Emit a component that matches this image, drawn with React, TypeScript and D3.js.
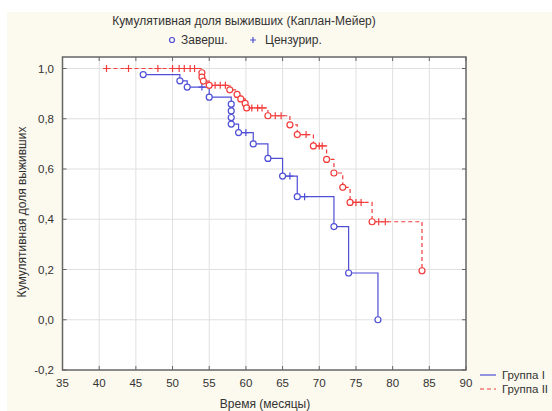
import React from "react";
import * as d3 from "d3";

const groupITime = [46, 51, 52, 54, 55, 58, 58, 58, 58, 59, 60, 61, 63, 65, 66, 67, 68, 72, 74, 78];
const groupISurv = [0.976, 0.951, 0.926, 0.926, 0.886, 0.858, 0.831, 0.805, 0.779, 0.745, 0.745, 0.7, 0.642, 0.572, 0.572, 0.49, 0.49, 0.371, 0.186, 0.0];
const groupIEvent = [1, 1, 1, 0, 1, 1, 1, 1, 1, 1, 0, 1, 1, 1, 0, 1, 0, 1, 1, 1];

const groupIITime = [41, 44, 48, 50, 50.9, 51.6, 52.4, 53, 54, 54, 54.2, 55, 55.8, 56.5, 57.2, 57.8, 58.8, 59.3, 59.9, 60.1, 60.8, 61.6, 62.2, 63, 64, 64.8, 66, 67, 68.2, 69.2, 70, 70.4, 71, 72, 73.2, 74.2, 75, 75.7, 77.2, 78.1, 79, 84];
const groupIISurv = [1, 1, 1, 1, 1, 1, 1, 1, 0.983, 0.966, 0.95, 0.933, 0.933, 0.933, 0.933, 0.915, 0.897, 0.879, 0.861, 0.843, 0.843, 0.843, 0.843, 0.812, 0.812, 0.812, 0.776, 0.737, 0.737, 0.692, 0.692, 0.692, 0.638, 0.584, 0.527, 0.467, 0.467, 0.467, 0.39, 0.39, 0.39, 0.195];
const groupIIEvent = [0, 0, 0, 0, 0, 0, 0, 0, 1, 1, 1, 1, 0, 0, 0, 1, 1, 1, 1, 1, 0, 0, 0, 1, 0, 0, 1, 1, 0, 1, 0, 0, 1, 1, 1, 1, 0, 0, 1, 0, 0, 1];

const xTicks = [35, 40, 45, 50, 55, 60, 65, 70, 75, 80, 85, 90];
const yTicks = [-0.2, 0, 0.2, 0.4, 0.6, 0.8, 1.0];

const title = "Кумулятивная доля выживших (Каплан-Мейер)";
const xTitle = "Время (месяцы)";
const yTitle = "Кумулятивная доля выживших";
const seriesNames = ["Группа I", "Группа II"];
const markerNames = ["Заверш.", "Цензурир."];

const BLUE = "#4f4fd6";
const RED = "#f23c3c";
const FONT = "'Liberation Sans', Arial, sans-serif";

export default function App() {
  const W = 552, H = 411;
  const L = 62.5, R = 466, T = 57, B = 370;
  const x = d3.scaleLinear().domain([35, 90]).range([L, R]);
  const y = d3.scaleLinear().domain([-0.2, 1.0]).range([B, 68.5]);
  const line = d3.line<[number, number]>().x(d => x(d[0])).y(d => y(d[1])).curve(d3.curveStepAfter);

  const series = [
    { t: groupITime, s: groupISurv, e: groupIEvent, color: BLUE, dash: undefined as string | undefined },
    { t: groupIITime, s: groupIISurv, e: groupIIEvent, color: RED, dash: "4,3" },
  ];

  const fmt = (v: number) => d3.format(".1f")(v).replace(".", ",").replace("−", "-");

  return (
    <svg width={W} height={H} style={{ position: "absolute", left: 0, top: 0 }} fontFamily={FONT}>
      <rect x={0} y={0} width={W} height={H} fill="#ffffff" />
      <rect x={7} y={12} width={W - 7} height={H - 12} fill="#fcf9ee" />
      <rect x={L} y={T} width={R - L} height={B - T} fill="#ffffff" />
      {xTicks.slice(1, -1).map(t => (
        <line key={"gx" + t} x1={x(t)} x2={x(t)} y1={T} y2={B} stroke="#e0e0e0" strokeWidth={1} />
      ))}
      {yTicks.slice(1).map(v => (
        <line key={"gy" + v} x1={L} x2={R} y1={y(v)} y2={y(v)} stroke="#e0e0e0" strokeWidth={1} />
      ))}
      {xTicks.map(t => (
        <g key={"tx" + t}>
          <line x1={x(t)} x2={x(t)} y1={B} y2={B - 4} stroke="#666" />
          <line x1={x(t)} x2={x(t)} y1={T} y2={T + 4} stroke="#666" />
          <text x={x(t)} y={387} textAnchor="middle" fontSize={11.5} fill="#333">{t}</text>
        </g>
      ))}
      {yTicks.map(v => (
        <g key={"ty" + v}>
          <line x1={L} x2={L + 4} y1={y(v)} y2={y(v)} stroke="#666" />
          <line x1={R} x2={R - 4} y1={y(v)} y2={y(v)} stroke="#666" />
          <text x={54} y={y(v) + 4} textAnchor="end" fontSize={11.5} fill="#333">{fmt(v)}</text>
        </g>
      ))}
      <rect x={L} y={T} width={R - L} height={B - T} fill="none" stroke="#666" strokeWidth={1.5} />
      {series.map((sr, i) => {
        const pts = sr.t.map((t, k) => [t, sr.s[k]] as [number, number]);
        return (
          <g key={"s" + i}>
            <path d={line(pts) || ""} fill="none" stroke={sr.color} strokeWidth={1.2} strokeDasharray={sr.dash} />
            {pts.map((p, k) =>
              sr.e[k] === 1 ? (
                <circle key={k} cx={x(p[0])} cy={y(p[1])} r={3} fill="#fff" stroke={sr.color} strokeWidth={1.2} />
              ) : (
                <path key={k} d={`M${x(p[0]) - 3.5},${y(p[1])}H${x(p[0]) + 3.5}M${x(p[0])},${y(p[1]) - 3.5}V${y(p[1]) + 3.5}`} stroke={sr.color} strokeWidth={1.2} />
              )
            )}
          </g>
        );
      })}
      <text x={244} y={25} textAnchor="middle" fontSize={12} fill="#333">{title}</text>
      <circle cx={172} cy={40} r={2.5} fill="none" stroke={BLUE} strokeWidth={1.2} />
      <text x={181} y={44} fontSize={12} fill="#333">{markerNames[0]}</text>
      <path d="M250,40H256M253,37V43" stroke={BLUE} strokeWidth={1.2} />
      <text x={265} y={44} fontSize={12} fill="#333">{markerNames[1]}</text>
      <text x={265} y={408} textAnchor="middle" fontSize={12} fill="#333">{xTitle}</text>
      <text transform={`translate(26,212) rotate(-90)`} textAnchor="middle" fontSize={12} fill="#333">{yTitle}</text>
      <line x1={480} x2={496} y1={375} y2={375} stroke={BLUE} strokeWidth={1.2} />
      <text x={502} y={379} fontSize={11.5} fill="#333">{seriesNames[0]}</text>
      <line x1={480} x2={496} y1={389} y2={389} stroke={RED} strokeWidth={1.2} strokeDasharray="4,3" />
      <text x={502} y={393} fontSize={11.5} fill="#333">{seriesNames[1]}</text>
    </svg>
  );
}
